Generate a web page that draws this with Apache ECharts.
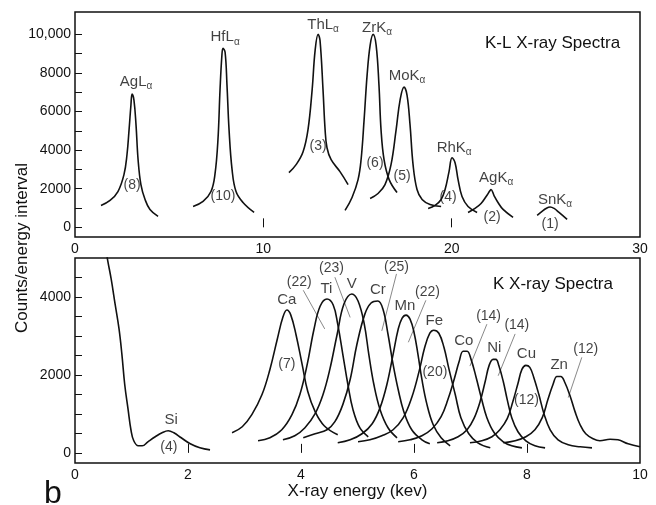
<!DOCTYPE html>
<html>
<head>
<meta charset="utf-8">
<script src="https://cdn.jsdelivr.net/npm/echarts@6/dist/echarts.min.js"></script>
<style>
  html, body { margin: 0; padding: 0; background: #fff; }
  #chart { width: 656px; height: 505px; }
</style>
</head>
<body>
<div id="chart"></div>
<script>
// K-L spectra (top panel): [energy keV, counts]
const agL = [[1.38,1133],[1.86,1391],[2.28,1854],[2.60,2730],[2.76,3760],[2.87,5047],[2.97,6335],[3.03,6900],[3.13,6592],[3.24,5305],[3.35,3502],[3.50,2215],[3.72,1442],[3.98,927],[4.41,567]];
const hfL = [[6.27,1082],[6.80,1339],[7.22,1854],[7.43,2730],[7.59,4532],[7.70,7107],[7.80,8910],[7.86,9270],[7.97,9064],[8.07,7365],[8.18,5047],[8.34,2987],[8.55,1854],[8.92,1288],[9.51,773]];
const thL = [[11.36,2833],[11.74,3245],[12.11,3914],[12.37,5047],[12.59,7107],[12.75,9167],[12.91,9991],[13.01,9682],[13.17,7107],[13.28,5047],[13.38,4120],[13.60,3502],[14.07,2884],[14.50,2215]];
const zrK = [[14.34,876],[14.71,1545],[15.03,2472],[15.19,3502],[15.35,5562],[15.51,7880],[15.67,9425],[15.83,9991],[15.99,9425],[16.14,7365],[16.25,5047],[16.41,3502],[16.68,2472],[17.10,1803]];
const moK = [[15.67,1494],[16.09,1751],[16.46,2215],[16.78,3245],[17.05,5047],[17.26,6592],[17.47,7262],[17.63,6850],[17.79,5305],[17.95,3245],[18.16,1957],[18.43,1442],[18.85,1185],[19.44,1082]];
const rhK = [[18.75,979],[19.12,1133],[19.44,1442],[19.65,1957],[19.86,2884],[20.02,3605],[20.18,3348],[20.34,2472],[20.55,1597],[20.87,1082],[21.35,773]];
const agK = [[20.87,773],[21.24,979],[21.56,1236],[21.83,1597],[22.04,1906],[22.09,1957],[22.25,1648],[22.46,1288],[22.73,927],[23.26,515]];
const snK = [[24.54,618],[24.80,824],[25.01,979],[25.23,1056],[25.44,979],[25.70,773],[26.13,412]];

// K spectra (bottom panel)
const si = [[0.53,5366],[0.58,4928],[0.64,4463],[0.71,3818],[0.78,3174],[0.83,2528],[0.88,1754],[0.94,1109],[0.99,593],[1.04,310],[1.12,181],[1.19,181],[1.29,284],[1.42,413],[1.54,516],[1.65,568],[1.75,516],[1.88,387],[2.04,232],[2.21,129],[2.39,77]];
const ca = [[2.78,516],[2.96,671],[3.13,980],[3.31,1496],[3.45,2141],[3.58,2915],[3.68,3483],[3.75,3664],[3.82,3535],[3.91,3044],[4.02,2270],[4.12,1574],[4.25,1058],[4.41,697],[4.65,464]];
const ti = [[3.24,310],[3.45,387],[3.66,593],[3.84,980],[3.98,1496],[4.11,2270],[4.23,3173],[4.34,3767],[4.46,3947],[4.57,3793],[4.65,3302],[4.74,2528],[4.83,1754],[4.92,1109],[5.04,645],[5.19,413]];
const v = [[3.68,335],[3.89,439],[4.07,645],[4.25,1006],[4.39,1496],[4.51,2141],[4.64,3044],[4.76,3818],[4.90,4076],[5.01,3896],[5.12,3302],[5.20,2528],[5.29,1754],[5.40,1109],[5.54,645],[5.70,387]];
const cr = [[4.04,387],[4.25,490],[4.46,593],[4.60,800],[4.74,1238],[4.87,1883],[4.99,2786],[5.13,3560],[5.24,3844],[5.36,3896],[5.45,3689],[5.54,3044],[5.63,2270],[5.72,1625],[5.82,1058],[5.96,593],[6.14,335],[6.28,232]];
const mn = [[4.65,258],[4.87,335],[5.08,490],[5.26,748],[5.40,1161],[5.52,1754],[5.63,2528],[5.72,3173],[5.79,3457],[5.86,3535],[5.93,3431],[6.00,3096],[6.07,2528],[6.14,1883],[6.23,1238],[6.34,722],[6.48,387],[6.64,181]];
const fe = [[5.01,284],[5.22,335],[5.43,439],[5.63,593],[5.81,903],[5.96,1419],[6.09,2090],[6.19,2709],[6.28,3070],[6.35,3148],[6.44,3070],[6.53,2709],[6.62,2141],[6.73,1496],[6.83,903],[6.97,490],[7.13,258],[7.35,129]];
const co = [[5.72,284],[5.93,335],[6.14,439],[6.32,619],[6.48,929],[6.60,1367],[6.71,1883],[6.80,2348],[6.87,2606],[6.94,2606],[7.01,2399],[7.10,1935],[7.19,1419],[7.29,903],[7.42,516],[7.58,284],[7.73,181],[7.91,129]];
const ni = [[6.41,258],[6.60,310],[6.78,413],[6.94,593],[7.06,877],[7.17,1316],[7.26,1832],[7.33,2245],[7.40,2399],[7.45,2399],[7.50,2245],[7.58,1832],[7.65,1367],[7.73,903],[7.84,542],[7.98,310],[8.14,181],[8.32,129]];
const cu = [[6.99,258],[7.20,310],[7.38,413],[7.52,593],[7.65,877],[7.75,1316],[7.84,1780],[7.91,2141],[7.98,2245],[8.05,2193],[8.12,1935],[8.21,1496],[8.30,1006],[8.41,593],[8.55,335],[8.73,206],[8.94,155],[9.15,129]];
const zn = [[7.58,258],[7.79,310],[7.98,413],[8.14,593],[8.27,903],[8.37,1367],[8.46,1754],[8.53,1961],[8.60,1961],[8.67,1806],[8.76,1471],[8.85,1058],[8.94,722],[9.04,490],[9.17,361],[9.29,310],[9.47,348],[9.61,335],[9.79,232],[10.0,155]];

// annotation text: [x, y, text]
const topNames = [[3.24,7519,'{m|AgL}{s|α}'],[7.97,9837,'{m|HfL}{s|α}'],[13.17,10506,'{m|ThL}{s|α}'],[16.04,10352,'{m|ZrK}{s|α}'],[17.63,7828,'{m|MoK}{s|α}'],[20.13,4120,'{m|RhK}{s|α}'],[22.36,2575,'{m|AgK}{s|α}'],[25.49,1442,'{m|SnK}{s|α}']];
const topCounts = [[3.03,2163,'(8)'],[7.86,1597,'(10)'],[12.91,4223,'(3)'],[15.93,3348,'(6)'],[17.37,2627,'(5)'],[19.81,1545,'(4)'],[22.15,515,'(2)'],[25.23,155,'(1)']];
const bottomNames = [[1.70,851,'Si'],[3.75,3929,'Ca'],[4.45,4213,'Ti'],[4.90,4334,'V'],[5.36,4172,'Cr'],[5.84,3775,'Mn'],[6.36,3398,'Fe'],[6.88,2882,'Co'],[7.42,2691,'Ni'],[7.99,2536,'Cu'],[8.57,2263,'Zn']];
const bottomCounts = [[1.66,155,'(4)'],[3.75,2278,'(7)'],[3.97,4386,'(22)'],[4.54,4729,'(23)'],[5.69,4765,'(25)'],[6.24,4128,'(22)'],[6.37,2064,'(20)'],[7.32,3516,'(14)'],[7.82,3269,'(14)'],[7.99,1349,'(12)'],[9.04,2665,'(12)']];
const leaders = [[[4.04,4172],[4.42,3181]],[[4.60,4507],[4.87,3475]],[[5.69,4592],[5.43,3130]],[[6.21,3914],[5.90,2838]],[[7.29,3302],[6.99,2227]],[[7.79,3052],[7.49,1979]],[[8.97,2451],[8.73,1419]]];

// ticks and labels
const topXLabels = [0, 10, 20, 30];
const topXTicks = [10, 20];
const topYLabels = [0, 2000, 4000, 6000, 8000, 10000];
const topYTicks = [0, 1000, 2000, 3000, 4000, 5000, 6000, 7000, 8000, 9000, 10000];
const botXLabels = [0, 2, 4, 6, 8, 10];
const botXTicks = [2, 4, 6, 8];
const botYLabels = [0, 2000, 4000];
const botYTicks = [0, 500, 1000, 1500, 2000, 2500, 3000, 3500, 4000, 4500];

const FONT = 'Liberation Sans, Arial, Helvetica, sans-serif';
const INK = '#111';

const chart = echarts.init(document.getElementById('chart'), null, { renderer: 'canvas' });

function xAxis(idx, max, labels, ticks, name) {
  return {
    type: 'value', gridIndex: idx, min: 0, max: max,
    axisLine: { show: false },
    splitLine: { show: false },
    axisTick: { show: true, inside: true, length: 9, customValues: ticks, lineStyle: { color: INK, width: 1 } },
    axisLabel: { customValues: labels, margin: 5, color: INK, fontSize: 14, fontFamily: FONT },
    name: name || '', nameLocation: 'middle', nameGap: 20,
    nameTextStyle: { color: INK, fontSize: 17, fontFamily: FONT }
  };
}
function yAxis(idx, min, max, labels, ticks) {
  return {
    type: 'value', gridIndex: idx, min: min, max: max,
    axisLine: { show: false },
    splitLine: { show: false },
    axisTick: { show: true, inside: true, length: 7, customValues: ticks, lineStyle: { color: INK, width: 1 } },
    axisLabel: {
      customValues: labels, margin: 4, color: INK, fontSize: 14, fontFamily: FONT,
      formatter: val => (val === 10000 ? '10,000' : String(val))
    }
  };
}

const lineStyle = { color: INK, width: 1.6 };
function peak(data, idx) {
  return {
    type: 'line', xAxisIndex: idx, yAxisIndex: idx, data: data,
    smooth: 0.4, showSymbol: false, symbol: 'none', clip: true,
    lineStyle: lineStyle, silent: true
  };
}
function textSeries(data, idx, size) {
  return {
    type: 'scatter', xAxisIndex: idx, yAxisIndex: idx, data: data,
    symbolSize: 1, itemStyle: { color: 'rgba(0,0,0,0)' }, silent: true, z: 5,
    label: {
      show: true, position: 'inside', color: INK, fontFamily: FONT, fontSize: size,
      formatter: p => p.data[2],
      rich: {
        m: { fontSize: 15, lineHeight: 19, fontFamily: FONT, color: INK },
        s: { fontSize: 10, lineHeight: 10, verticalAlign: 'bottom', fontFamily: FONT, color: INK }
      }
    }
  };
}

const series = [];
[agL, hfL, thL, zrK, moK, rhK, agK, snK].forEach(d => series.push(peak(d, 0)));
[si, ca, ti, v, cr, mn, fe, co, ni, cu, zn].forEach(d => series.push(peak(d, 1)));
series.push(textSeries(topNames, 0, 15));
series.push(textSeries(topCounts, 0, 14));
series.push(textSeries(bottomNames, 1, 15));
series.push(textSeries(bottomCounts, 1, 14));
series.push({
  type: 'lines', coordinateSystem: 'cartesian2d', xAxisIndex: 1, yAxisIndex: 1,
  data: leaders.map(c => ({ coords: c })), silent: true,
  lineStyle: { color: '#6a6a6a', width: 0.8, opacity: 1 }
});

chart.setOption({
  animation: false,
  backgroundColor: '#fff',
  textStyle: { fontFamily: FONT },
  title: [
    { text: 'K-L X-ray Spectra', left: 480, top: 30, textStyle: { fontSize: 17, fontWeight: 'normal', color: INK, fontFamily: FONT } },
    { text: 'K X-ray Spectra', left: 488, top: 271, textStyle: { fontSize: 17, fontWeight: 'normal', color: INK, fontFamily: FONT } }
  ],
  grid: [
    { left: 75, right: 16, top: 12, height: 225, show: true, borderColor: INK, borderWidth: 1.5, backgroundColor: 'transparent' },
    { left: 75, right: 16, top: 258, height: 205, show: true, borderColor: INK, borderWidth: 1.5, backgroundColor: 'transparent' }
  ],
  xAxis: [
    xAxis(0, 30, topXLabels, topXTicks),
    xAxis(1, 10, botXLabels, botXTicks, 'X-ray energy (kev)')
  ],
  yAxis: [
    yAxis(0, -500, 11150, topYLabels, topYTicks),
    yAxis(1, -260, 5000, botYLabels, botYTicks)
  ],
  graphic: [
    { type: 'text', x: 22, y: 248, rotation: Math.PI / 2,
      style: { text: 'Counts/energy interval', fill: INK, font: '17px ' + FONT, align: 'center', verticalAlign: 'middle' } },
    { type: 'text', x: 53, y: 494,
      style: { text: 'b', fill: INK, font: '32px ' + FONT, align: 'center', verticalAlign: 'middle' } }
  ],
  series: series
});
</script>
</body>
</html>
